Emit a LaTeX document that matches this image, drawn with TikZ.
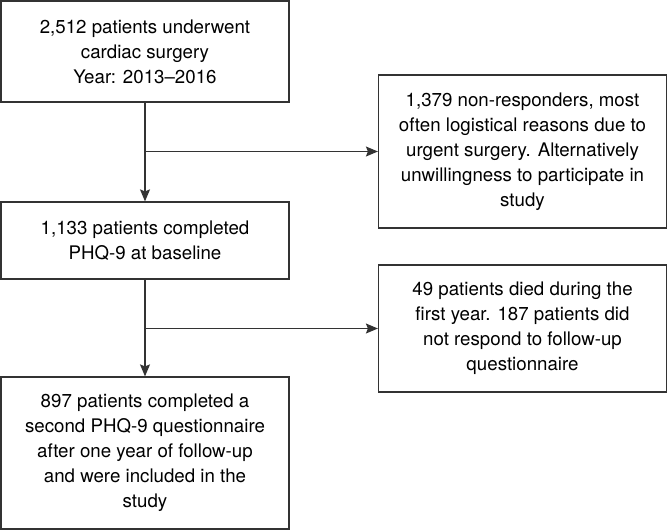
\documentclass[tikz,border=0pt]{standalone}
\usepackage{fontspec}
\setmainfont{TeX Gyre Heros}
\usetikzlibrary{arrows.meta}
\begin{document}
\begin{tikzpicture}[x=1pt,y=-1pt,
    box/.style={draw=black!80,line width=1.2pt,minimum width=288pt,
      inner sep=0pt,align=center,font=\fontsize{18.7}{25}\selectfont},
    link/.style={draw=black!80,line width=1.2pt,
      -{Stealth[length=12pt,width=10pt,inset=2pt]}}]
  \useasboundingbox (0,0) rectangle (669,530);
  % main column
  \node [box,minimum height=101pt] (start) at (145,51.5)
    {2,512 patients underwent\\cardiac surgery\\Year: 2013--2016};
  \node [box,minimum height=77pt] (baseline) at (145,240.5)
    {1,133 patients completed\\PHQ-9 at baseline};
  \node [box,minimum height=152pt] (final) at (145,453)
    {897 patients completed a\\second PHQ-9 questionnaire\\after one year of follow-up\\and were included in the\\study};
  % exclusions
  \node [box,minimum height=153pt] (nonresp) at (522.5,151.5)
    {1,379 non-responders, most\\often logistical reasons due to\\urgent surgery. Alternatively\\unwillingness to participate in\\study};
  \node [box,minimum height=127pt] (lost) at (522.5,328.5)
    {49 patients died during the\\first year. 187 patients did\\not respond to follow-up\\questionnaire};
  \coordinate (split1) at (start.south |- nonresp.west);
  \coordinate (split2) at (baseline.south |- lost.west);
  \draw [link] (start) -- (baseline);
  \draw [link] (split1) -- (nonresp);
  \draw [link] (baseline) -- (final);
  \draw [link] (split2) -- (lost);
\end{tikzpicture}
\end{document}
